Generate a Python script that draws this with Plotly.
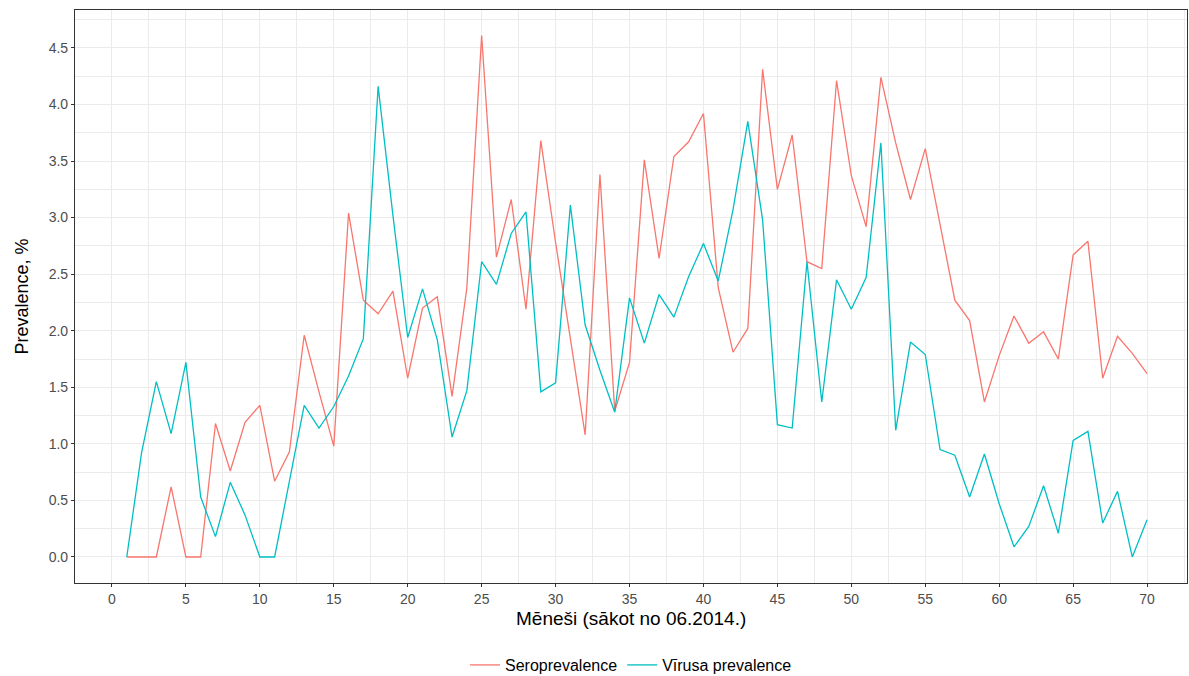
import plotly.graph_objects as go

months = list(range(1, 71))

seroprevalence = [
    0.00, 0.00, 0.00, 0.62, 0.00, 0.00, 1.18, 0.76, 1.19, 1.34,
    0.67, 0.93, 1.96, 1.46, 0.98, 3.04, 2.27, 2.15, 2.35, 1.58,
    2.20, 2.30, 1.42, 2.38, 4.61, 2.65, 3.16, 2.19, 3.68, 2.78,
    1.92, 1.08, 3.38, 1.29, 1.72, 3.51, 2.64, 3.54, 3.67, 3.92,
    2.38, 1.81, 2.02, 4.31, 3.25, 3.73, 2.61, 2.55, 4.21, 3.37,
    2.92, 4.24, 3.66, 3.16, 3.61, 2.93, 2.27, 2.09, 1.37, 1.78,
    2.13, 1.89, 1.99, 1.75, 2.67, 2.79, 1.58, 1.95, 1.80, 1.62,
]

virusa_prevalence = [
    0.00, 0.92, 1.55, 1.09, 1.72, 0.53, 0.18, 0.66, 0.37, 0.00,
    0.00, 0.66, 1.34, 1.14, 1.33, 1.60, 1.93, 4.16, 3.02, 1.94,
    2.37, 1.92, 1.06, 1.47, 2.61, 2.41, 2.86, 3.05, 1.46, 1.54,
    3.11, 2.05, 1.65, 1.28, 2.29, 1.89, 2.32, 2.12, 2.48, 2.77,
    2.44, 3.07, 3.85, 2.98, 1.17, 1.14, 2.61, 1.37, 2.45, 2.19,
    2.47, 3.66, 1.12, 1.90, 1.79, 0.95, 0.90, 0.53, 0.91, 0.47,
    0.09, 0.27, 0.63, 0.21, 1.03, 1.11, 0.30, 0.58, 0.00, 0.33,
]

series_names = ["Seroprevalence", "Vīrusa prevalence"]
series_colors = ["#F8766D", "#00BFC4"]

x_ticks = list(range(0, 71, 5))
y_ticks = [0.0, 0.5, 1.0, 1.5, 2.0, 2.5, 3.0, 3.5, 4.0, 4.5]

FONT = "Liberation Sans, Arial, sans-serif"

fig = go.Figure()
for name, vals, col in zip(series_names, [seroprevalence, virusa_prevalence], series_colors):
    fig.add_trace(go.Scatter(
        x=months, y=vals, mode="lines", name=name,
        line=dict(color=col, width=1.3),
    ))

axis_common = dict(
    showline=True, linecolor="#333333", linewidth=1.2, mirror=True,
    showgrid=True, gridcolor="#EBEBEB", gridwidth=1.4,
    zeroline=False,
    ticks="outside", ticklen=3, tickcolor="#333333", tickwidth=1,
    tickfont=dict(family=FONT, size=14, color="#4D4D4D"),
)

fig.update_xaxes(
    range=[-2.5, 72.7], tickvals=x_ticks,
    minor=dict(dtick=2.5, tick0=0, gridcolor="#EBEBEB", gridwidth=0.8, showgrid=True, ticks=""),
    **axis_common,
)
fig.update_yaxes(
    range=[-0.23, 4.835], tickvals=y_ticks, tickformat=".1f",
    minor=dict(dtick=0.25, tick0=0, gridcolor="#EBEBEB", gridwidth=0.8, showgrid=True, ticks=""),
    **axis_common,
)

fig.update_layout(
    width=1189, height=676,
    margin=dict(l=75, r=2, t=10, b=93),
    paper_bgcolor="white", plot_bgcolor="white",
    font=dict(family=FONT, color="black"),
    showlegend=True,
    legend=dict(
        orientation="h", x=0.5, xanchor="center",
        yref="container", y=(676 - 665) / 676, yanchor="middle",
        font=dict(family=FONT, size=16, color="black"),
        bgcolor="rgba(0,0,0,0)",
    ),
    annotations=[
        dict(text="Mēneši (sākot no 06.2014.)", x=0.5, xref="paper",
             y=-(618 - 583) / 573, yref="paper", xanchor="center", yanchor="middle",
             showarrow=False, font=dict(family=FONT, size=19, color="black")),
        dict(text="Prevalence, %", x=-(75 - 21) / 1112, xref="paper", y=0.5, yref="paper",
             xanchor="center", yanchor="middle", textangle=-90, showarrow=False,
             font=dict(family=FONT, size=18, color="black")),
    ],
)

fig.write_html("out.html")
